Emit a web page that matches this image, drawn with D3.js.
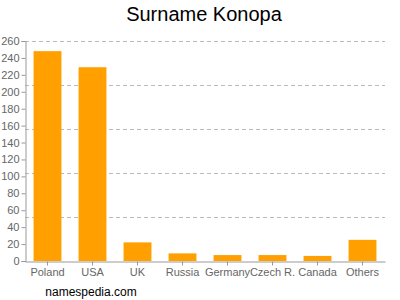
<!DOCTYPE html>
<html><head><meta charset="utf-8">
<script src="https://cdn.jsdelivr.net/npm/d3@7"></script>
<style>body{margin:0;background:#fff;font-family:"Liberation Sans",Arial,sans-serif;}</style>
</head><body>
<svg id="c" width="400" height="300"></svg>
<script>
const categories = ["Poland","USA","UK","Russia","Germany","Czech R.","Canada","Others"];
const values = [248,229,22,9,7,7,6,25];
const yTicks = [0,20,40,60,80,100,120,140,160,180,200,220,240,260];
const gridTicks = [52,104,156,208,260];

const svg = d3.select("#c");
const m = {left:25, right:15, top:41, bottom:39};
const W = 400, H = 300;
const x = d3.scaleBand().domain(categories).range([m.left, W - m.right]).paddingInner(0.38).paddingOuter(0.19);
const y = d3.scaleLinear().domain([0,260]).range([H - m.bottom, m.top]);

svg.append("text").attr("x",204).attr("y",21).attr("text-anchor","middle")
  .attr("font-size",20).attr("fill","#000").text("Surname Konopa");

svg.append("g").selectAll("line").data(gridTicks).join("line")
  .attr("x1", m.left).attr("x2", W - m.right)
  .attr("y1", d => Math.round(y(d)) + 0.5).attr("y2", d => Math.round(y(d)) + 0.5)
  .attr("stroke","#bbb").attr("stroke-dasharray","4,3");

svg.append("g").selectAll("rect").data(values).join("rect")
  .attr("x",(d,i)=>x(categories[i])).attr("width",x.bandwidth())
  .attr("y",d=>y(d)).attr("height",d=>y(0)-y(d)).attr("fill","#ffa000");

const ya = svg.append("g").attr("transform",`translate(${m.left+0.5},0)`)
  .call(d3.axisLeft(y).tickValues(yTicks).tickSize(4).tickPadding(2));
ya.selectAll("text").attr("font-size",11).attr("fill","#666").attr("font-family","Liberation Sans,Arial,sans-serif");
ya.selectAll("line,path").attr("stroke","#999");

const xa = svg.append("g").attr("transform",`translate(0,${y(0)+0.5})`)
  .call(d3.axisBottom(x).tickSize(4).tickPadding(3).tickSizeOuter(0));
xa.selectAll("text").attr("font-size",11).attr("fill","#666").attr("font-family","Liberation Sans,Arial,sans-serif");
xa.selectAll("line,path").attr("stroke","#999");

svg.append("text").attr("x",91).attr("y",296).attr("text-anchor","middle")
  .attr("font-size",12).attr("fill","#000").text("namespedia.com");
</script>
</body></html>
